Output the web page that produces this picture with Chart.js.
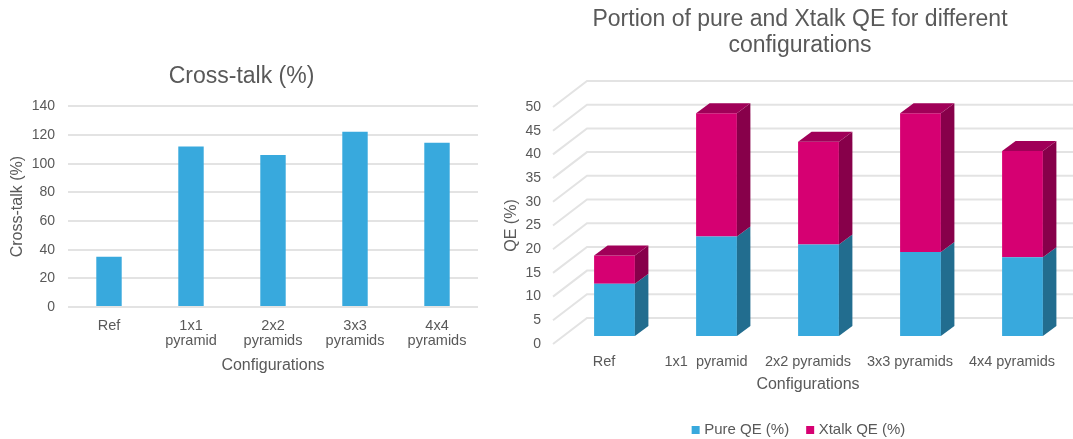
<!DOCTYPE html>
<html>
<head>
<meta charset="utf-8">
<title>Cross-talk and QE</title>
<script src="https://cdn.jsdelivr.net/npm/chart.js@4/dist/chart.umd.min.js"></script>
<style>
  html, body { margin: 0; padding: 0; background: #fff; overflow: hidden; width: 1073px; height: 439px; }
  canvas { position: absolute; top: 0; }
  #crossTalkChart { left: 0; }
  #qeChart { left: 500px; }
</style>
</head>
<body>
<canvas id="crossTalkChart" width="483" height="439"></canvas>
<canvas id="qeChart" width="600" height="460"></canvas>
<script>
const crossTalkLabels = ['Ref', ['1x1', 'pyramid'], ['2x2', 'pyramids'], ['3x3', 'pyramids'], ['4x4', 'pyramids']];
const crossTalkValues = [35, 112, 106, 122.2, 114.6];

const qeLabels = ['Ref', '1x1  pyramid', '2x2 pyramids', '3x3 pyramids', '4x4 pyramids'];
const pureQE = [11, 21, 19.3, 17.7, 16.6];
const xtalkQE = [6, 26, 21.7, 29.3, 22.4];

const FONT = '"Liberation Sans", Arial, sans-serif';
const TEXT = '#595959';
const GRID = '#e3e3e3';
const BLUE = '#38a9dd';
const PINK = '#d60072';

Chart.defaults.font.family = FONT;
Chart.defaults.color = TEXT;
Chart.defaults.animation = false;

new Chart(document.getElementById('crossTalkChart'), {
    type: 'bar',
    data: {
        labels: crossTalkLabels,
        datasets: [{
            label: 'Cross-talk (%)',
            data: crossTalkValues,
            backgroundColor: BLUE,
            barPercentage: 1,
            categoryPercentage: 0.31,
        }],
    },
    options: {
        responsive: false,
        layout: { padding: { left: 5, right: 5, bottom: 62 } },
        plugins: {
            legend: { display: false },
            title: {
                display: true,
                text: 'Cross-talk (%)',
                font: { size: 23, weight: 'normal' },
                color: TEXT,
                padding: { top: 63, bottom: 15.7 },
            },
        },
        scales: {
            x: {
                grid: { display: false, drawTicks: false },
                border: { display: false },
                ticks: { font: { size: 14.5, lineHeight: 1.08 }, padding: 11, maxRotation: 0, autoSkip: false, color: TEXT },
                title: { display: true, text: 'Configurations', font: { size: 16 }, color: TEXT, padding: 2 },
                afterFit: (axis) => { axis.height = 70; },
            },
            y: {
                min: 0,
                max: 140,
                grid: { color: GRID, lineWidth: 2, drawTicks: false },
                border: { display: false },
                ticks: { stepSize: 20, font: { size: 14 }, padding: 13, color: TEXT },
                title: { display: true, text: 'Cross-talk (%)', font: { size: 16 }, color: TEXT, padding: { top: 3, bottom: 0 } },
                afterFit: (axis) => { axis.width = 63; },
            },
        },
    },
});

// Fake 3D for the stacked chart: wall lines behind the bars, side and top faces on them
const WALL_X = 34, WALL_Y = 26;
const SHIFT_X = 10.5, SHIFT_Y = 8;
const DEPTH_X = 13.5, DEPTH_Y = 10;
const SIDES = ['#226d8f', '#87004a'];
const TOP_FACE = '#a00058';

function face(ctx, color, pts) {
    ctx.fillStyle = color;
    ctx.beginPath();
    pts.forEach((p, i) => (i ? ctx.lineTo(p[0], p[1]) : ctx.moveTo(p[0], p[1])));
    ctx.closePath();
    ctx.fill();
}

const depthPlugin = {
    id: 'depth',
    beforeDatasetsDraw(chart) {
        const { ctx, chartArea, scales } = chart;
        ctx.save();
        ctx.strokeStyle = GRID;
        ctx.lineWidth = 2;
        scales.y.ticks.forEach((tick) => {
            const y = scales.y.getPixelForValue(tick.value);
            ctx.beginPath();
            ctx.moveTo(chartArea.left, y);
            ctx.lineTo(chartArea.left + WALL_X, y - WALL_Y);
            ctx.lineTo(chartArea.right + WALL_X, y - WALL_Y);
            ctx.stroke();
        });
        ctx.restore();
        ctx.save();
        ctx.translate(SHIFT_X, -SHIFT_Y);
    },
    afterDatasetsDraw(chart) {
        const { ctx } = chart;
        chart.data.datasets.forEach((ds, d) => {
            chart.getDatasetMeta(d).data.forEach((bar) => {
                const r = bar.x + bar.width / 2;
                const l = bar.x - bar.width / 2;
                face(ctx, SIDES[d], [[r, bar.y], [r + DEPTH_X, bar.y - DEPTH_Y], [r + DEPTH_X, bar.base - DEPTH_Y], [r, bar.base]]);
                if (d === chart.data.datasets.length - 1) {
                    face(ctx, TOP_FACE, [[l, bar.y], [l + DEPTH_X, bar.y - DEPTH_Y], [r + DEPTH_X, bar.y - DEPTH_Y], [r, bar.y]]);
                }
            });
        });
        ctx.restore();
    },
};

new Chart(document.getElementById('qeChart'), {
    type: 'bar',
    data: {
        labels: qeLabels,
        datasets: [
            { label: 'Pure QE (%)', data: pureQE, backgroundColor: BLUE, clip: false, barPercentage: 1, categoryPercentage: 0.4 },
            { label: 'Xtalk QE (%)', data: xtalkQE, backgroundColor: PINK, clip: false, barPercentage: 1, categoryPercentage: 0.4 },
        ],
    },
    options: {
        responsive: false,
        layout: { padding: { bottom: 12.5 } },
        plugins: {
            title: {
                display: true,
                text: ['Portion of pure and Xtalk QE for different', 'configurations'],
                font: { size: 23, weight: 'normal', lineHeight: 1.13 },
                color: TEXT,
                padding: { top: 7, bottom: 48 },
            },
            legend: {
                position: 'bottom',
                labels: {
                    usePointStyle: true,
                    pointStyle: 'rect',
                    boxWidth: 2,
                    boxHeight: 8,
                    padding: 20,
                    font: { size: 15 },
                    color: TEXT,
                },
            },
        },
        scales: {
            x: {
                stacked: true,
                grid: { display: false, drawTicks: false },
                border: { display: false },
                ticks: { font: { size: 14.5 }, padding: 9, maxRotation: 0, autoSkip: false, color: TEXT },
                title: { display: true, text: 'Configurations', font: { size: 16 }, color: TEXT, padding: { top: 2, bottom: 8 } },
                afterFit: (axis) => { axis.height = 58.5; },
            },
            y: {
                stacked: true,
                min: 0,
                max: 50,
                grid: { display: false, drawTicks: false },
                border: { display: false },
                ticks: { stepSize: 5, font: { size: 14 }, padding: 12, color: TEXT },
                title: { display: true, text: 'QE (%)', font: { size: 16 }, color: TEXT, padding: { top: 2, bottom: 0 } },
                afterFit: (axis) => { axis.width = 53; },
            },
            // keeps the walls' room on the right while title and legend stay centred on the canvas
            spacer: {
                type: 'linear',
                position: 'right',
                grid: { display: false, drawTicks: false },
                border: { display: false },
                ticks: { display: false },
                afterFit: (axis) => { axis.width = 37; },
            },
        },
    },
    plugins: [depthPlugin],
});
</script>
</body>
</html>
